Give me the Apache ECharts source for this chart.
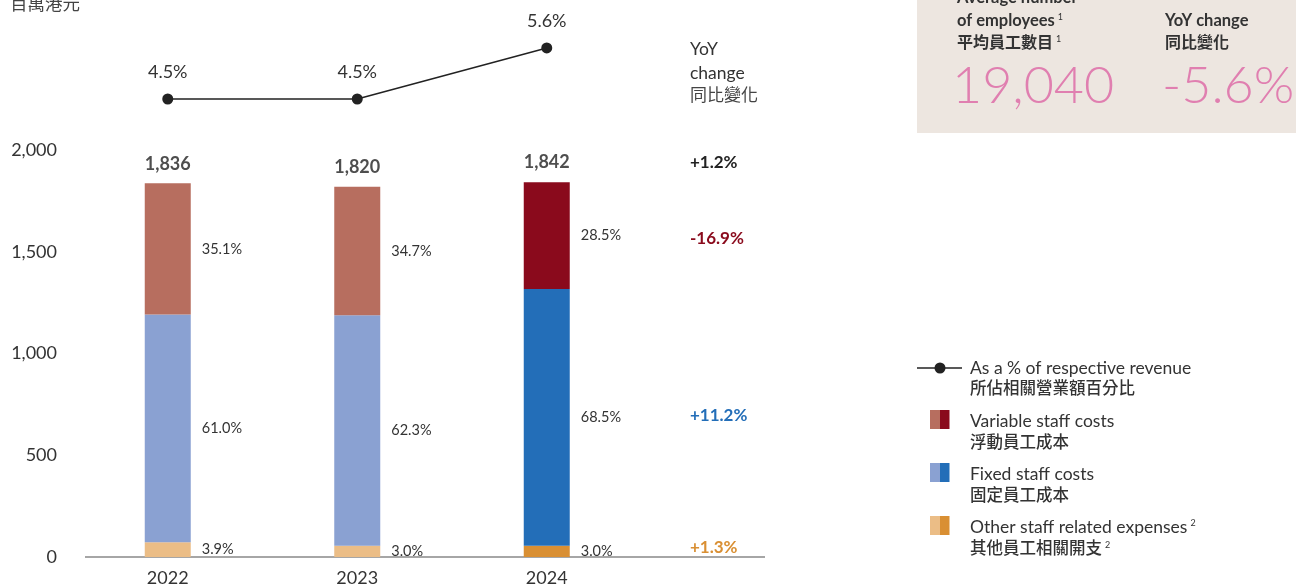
<!DOCTYPE html>
<html>
<head>
<meta charset="utf-8">
<script src="https://cdn.jsdelivr.net/npm/echarts@6/dist/echarts.min.js"></script>
<style>
html, body { margin: 0; padding: 0; background: #fff; }
#main { width: 1296px; height: 587px; }
</style>
</head>
<body>
<div id="main"></div>
<script>
// 員工成本 -------------------------------------
var years = ['2022', '2023', '2024', ''];
var variableCost = [644, 632, 525];
var fixedCost = [1120, 1133, 1262];
var otherCost = [72, 55, 55];
var totals = [1836, 1820, 1842];
var variablePct = ['35.1%', '34.7%', '28.5%'];
var fixedPct = ['61.0%', '62.3%', '68.5%'];
var otherPct = ['3.9%', '3.0%', '3.0%'];
var revenuePct = [4.5, 4.5, 5.6];
var yoyChange = ['+1.2%', '-16.9%', '+11.2%', '+1.3%'];
var employees = '19,040';
var employeesYoy = '-5.6%';

var FONT = "Lato, 'Noto Sans CJK TC', sans-serif";
var oldColors = { variable: '#b76e5f', fixed: '#8aa1d2', other: '#ebbd86' };
var newColors = { variable: '#8a0a1c', fixed: '#236eb8', other: '#d98f33' };

function barData(values, key) {
    return values.map(function (v, i) {
        return { value: v, itemStyle: { color: i === 2 ? newColors[key] : oldColors[key] } };
    });
}

function pctLabel(list) {
    return {
        show: true,
        position: 'right',
        distance: 11,
        fontSize: 14.5,
        fontFamily: FONT,
        color: '#333',
        formatter: function (p) { return list[p.dataIndex]; }
    };
}

var myChart = echarts.init(document.getElementById('main'));

var option = {
    animation: false,
    textStyle: { fontFamily: FONT },
    grid: [
        { left: 73, top: 150, width: 758, height: 407 },
        { left: 73, top: 29.4, width: 758, height: 92.8 }
    ],
    xAxis: [
        {
            type: 'category', gridIndex: 0, data: years,
            axisLine: { show: false }, axisTick: { show: false },
            axisLabel: { fontSize: 18, color: '#333', margin: 12, fontFamily: FONT }
        },
        { type: 'category', gridIndex: 1, data: years, show: false }
    ],
    yAxis: [
        {
            type: 'value', gridIndex: 0, min: 0, max: 2000, interval: 500,
            axisLine: { show: false }, axisTick: { show: false }, splitLine: { show: false },
            axisLabel: {
                fontSize: 18, color: '#333', margin: 16, fontFamily: FONT,
                formatter: function (v) { return echarts.format.addCommas(v); }
            }
        },
        { type: 'value', gridIndex: 1, min: 4, max: 6, show: false }
    ],
    series: [
        {
            name: 'Other', type: 'bar', stack: 'cost', barWidth: 46,
            data: barData(otherCost, 'other'), label: pctLabel(otherPct)
        },
        {
            name: 'Fixed', type: 'bar', stack: 'cost', barWidth: 46,
            data: barData(fixedCost, 'fixed'), label: pctLabel(fixedPct)
        },
        {
            name: 'Variable', type: 'bar', stack: 'cost', barWidth: 46,
            data: barData(variableCost, 'variable'), label: pctLabel(variablePct)
        },
        {
            name: 'Total', type: 'scatter', symbolSize: 1,
            itemStyle: { color: 'rgba(0,0,0,0)' },
            data: totals,
            label: {
                show: true, position: 'top', distance: 10,
                fontSize: 18, fontWeight: 'bold', color: '#222', fontFamily: FONT,
                formatter: function (p) { return echarts.format.addCommas(p.value); }
            }
        },
        {
            name: 'Revenue %', type: 'line', xAxisIndex: 1, yAxisIndex: 1,
            data: revenuePct, clip: false,
            symbol: 'circle', symbolSize: 11,
            lineStyle: { color: '#222', width: 1.5 },
            itemStyle: { color: '#222' },
            label: {
                show: true, position: 'top', distance: 12,
                fontSize: 18, color: '#333', fontFamily: FONT,
                formatter: function (p) { return p.value.toFixed(1) + '%'; }
            }
        }
    ]
};
myChart.setOption(option);

function txt(x, y, text, size, opts) {
    opts = opts || {};
    return {
        type: 'text', x: x, y: y, silent: true,
        style: {
            text: text, fontSize: size, fontFamily: FONT,
            fontWeight: opts.weight || 'normal',
            fill: opts.color || '#333',
            align: opts.align || 'left', verticalAlign: 'middle',
            rich: opts.rich
        }
    };
}
var sup = { fontSize: 9, verticalAlign: 'top', padding: [0, 0, 8, 3], fontFamily: FONT };

// 2024 段落中點 -> 同比變化位置
var y2024 = function (v) { return myChart.convertToPixel({ yAxisIndex: 0 }, v); };
var yoyY = [
    y2024(totals[2]) - 20,
    y2024(otherCost[2] + fixedCost[2] + variableCost[2] / 2) + 3,
    y2024(otherCost[2] + fixedCost[2] / 2) - 2,
    y2024(otherCost[2] / 2) - 4
];
var yoyColors = ['#222', newColors.variable, newColors.fixed, newColors.other];

var graphics = [
    { type: 'line', silent: true, shape: { x1: 85, y1: 557, x2: 765, y2: 557 }, style: { stroke: '#888', lineWidth: 1.5 } },
    txt(10, 4, '百萬港元', 17.5, { color: '#444' }),
    txt(690, 49, 'YoY', 17.5),
    txt(690, 73, 'change', 17.5),
    txt(690, 96, '同比變化', 17, { color: '#444' })
];
yoyChange.forEach(function (t, i) {
    graphics.push(txt(690, yoyY[i], t, 17, { weight: 'bold', color: yoyColors[i] }));
});

// 右上角員工數目
graphics.push({ type: 'rect', silent: true, shape: { x: 917, y: 0, width: 379, height: 133 }, style: { fill: '#ede6e0' } });
graphics.push(txt(957, -2, 'Average number', 16.5, { weight: 'bold', color: '#333' }));
graphics.push(txt(957, 21, 'of employees{s|1}', 16.5, { weight: 'bold', color: '#333', rich: { s: sup } }));
graphics.push(txt(957, 43, '平均員工數目{s|1}', 16, { weight: 'bold', color: '#333', rich: { s: sup } }));
graphics.push(txt(1165, 21, 'YoY change', 16.5, { weight: 'bold', color: '#333' }));
graphics.push(txt(1165, 43, '同比變化', 16, { weight: 'bold', color: '#333' }));
graphics.push(txt(952, 86, employees, 52, { weight: 300, color: '#e07fb0' }));
graphics.push(txt(1162, 86, employeesYoy, 52, { weight: 300, color: '#e07fb0' }));

// 圖例
graphics.push({ type: 'line', silent: true, shape: { x1: 917, y1: 368, x2: 962, y2: 368 }, style: { stroke: '#222', lineWidth: 1.5 } });
graphics.push({ type: 'circle', silent: true, shape: { cx: 940, cy: 368, r: 5.5 }, style: { fill: '#222' } });
graphics.push(txt(970, 368, 'As a % of respective revenue', 17.5));
graphics.push(txt(970, 389, '所佔相關營業額百分比', 16.5, { weight: 500 }));
var legendRows = [
    { key: 'variable', y: 410, en: 'Variable staff costs', zh: '浮動員工成本' },
    { key: 'fixed', y: 463, en: 'Fixed staff costs', zh: '固定員工成本' },
    { key: 'other', y: 516, en: 'Other staff related expenses{s|2}', zh: '其他員工相關開支{s|2}' }
];
legendRows.forEach(function (r) {
    graphics.push({ type: 'rect', silent: true, shape: { x: 930, y: r.y, width: 10, height: 19 }, style: { fill: oldColors[r.key] } });
    graphics.push({ type: 'rect', silent: true, shape: { x: 940, y: r.y, width: 9.5, height: 19 }, style: { fill: newColors[r.key] } });
    graphics.push(txt(970, r.y + 11, r.en, 17.5, { rich: { s: sup } }));
    graphics.push(txt(970, r.y + 33, r.zh, 16.5, { weight: 500, rich: { s: sup } }));
});

myChart.setOption({ graphic: graphics });

window.addEventListener('resize', function () {
    myChart.resize();
});
</script>
</body>
</html>
